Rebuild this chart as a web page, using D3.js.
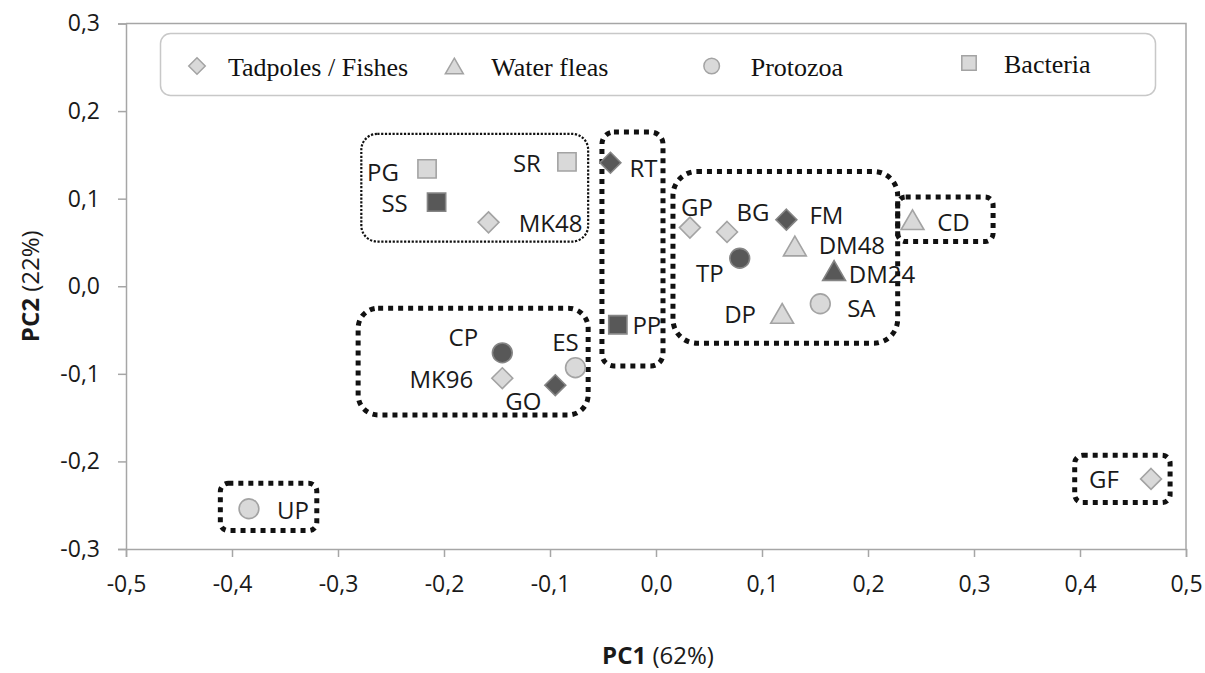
<!DOCTYPE html>
<html>
<head>
<meta charset="utf-8">
<script src="https://cdn.jsdelivr.net/npm/d3@7"></script>
<style>
  html, body { margin: 0; padding: 0; background: #fff; }
  svg { display: block; }
</style>
</head>
<body>
<svg id="chart" width="1205" height="673"></svg>
<script>
// ---- Samples on the first two principal components ----
const samples = ["PG", "SS", "SR", "MK48", "RT", "PP", "CP", "MK96", "GO", "ES",
                 "GP", "BG", "FM", "DM48", "TP", "DM24", "DP", "SA", "CD", "UP", "GF"];
const pc1 = [-0.216, -0.207, -0.084, -0.158, -0.043, -0.036, -0.145, -0.145, -0.095, -0.076,
             0.032, 0.067, 0.123, 0.131, 0.079, 0.168, 0.119, 0.155, 0.242, -0.384, 0.467];
const pc2 = [0.134, 0.096, 0.142, 0.073, 0.141, -0.044, -0.076, -0.105, -0.113, -0.093,
             0.067, 0.062, 0.076, 0.046, 0.032, 0.018, -0.031, -0.020, 0.076, -0.254, -0.220];
// organism group of each sample
const organism = ["Bacteria", "Bacteria", "Bacteria", "Tadpoles / Fishes", "Tadpoles / Fishes",
                  "Bacteria", "Protozoa", "Tadpoles / Fishes", "Tadpoles / Fishes", "Protozoa",
                  "Tadpoles / Fishes", "Tadpoles / Fishes", "Tadpoles / Fishes", "Water fleas",
                  "Protozoa", "Water fleas", "Water fleas", "Protozoa", "Water fleas",
                  "Protozoa", "Tadpoles / Fishes"];
// samples drawn with a filled (dark) marker
const darkSamples = ["SS", "RT", "PP", "CP", "GO", "FM", "TP", "DM24"];

// legend entries
const organismGroups = ["Tadpoles / Fishes", "Water fleas", "Protozoa", "Bacteria"];

// axis ticks
const xTicks = [-0.5, -0.4, -0.3, -0.2, -0.1, 0.0, 0.1, 0.2, 0.3, 0.4, 0.5];
const yTicks = [-0.3, -0.2, -0.1, 0.0, 0.1, 0.2, 0.3];

// dotted cluster outlines, in PC units: [pc1 min, pc1 max, pc2 min, pc2 max]
const clusterExtents = [
  [-0.278, -0.064, 0.051, 0.174],
  [-0.051, 0.0066, -0.091, 0.176],
  [0.016, 0.228, -0.065, 0.131],
  [0.228, 0.318, 0.051, 0.102],
  [-0.281, -0.064, -0.147, -0.025],
  [-0.411, -0.320, -0.279, -0.225],
  [0.395, 0.485, -0.247, -0.193]
];
const clusterLine = ["thin", "thick", "thick", "thick", "thick", "thick", "thick"];
const clusterRadius = [16, 12, 24, 8, 20, 8, 8];

// label placement around each marker (pixel offsets of the label centre)
const labelOffset = {
  PG: [-44, 3], SS: [-42, 0], SR: [-40, 1], MK48: [62, 0], RT: [33, 5], PP: [29, 0],
  CP: [-39, -16], MK96: [-61, 0], GO: [-32, 15], ES: [-10, -26], GP: [7, -21],
  BG: [26, -20], FM: [40, -5], DM48: [57, -1], TP: [-30, 14], DM24: [48, 3],
  DP: [-42, 0], SA: [41, 4], CD: [41, 2], UP: [44, 1], GF: [-47, 0]
};

// ---- Layout ----
const svg = d3.select("#chart");
const plot = { left: 126, right: 1186, top: 23.5, bottom: 549 };

const x = d3.scaleLinear().domain([-0.5, 0.5]).range([plot.left, plot.right]);
const y = d3.scaleLinear().domain([-0.3, 0.3]).range([plot.bottom, plot.top]);

const fmt = v => d3.format(".1f")(v).replace(".", ",").replace("−", "-");
const axisColor = "#a6a6a6";
const labelFont = "'Open Sans', 'DejaVu Sans', sans-serif";

// plot frame (top and right)
svg.append("path")
  .attr("d", `M${plot.left},${plot.top}H${plot.right}V${plot.bottom}`)
  .attr("fill", "none").attr("stroke", axisColor).attr("stroke-width", 1.5);

// axes
const xAxis = svg.append("g")
  .attr("transform", `translate(0,${plot.bottom})`)
  .call(d3.axisBottom(x).tickValues(xTicks).tickFormat(fmt).tickSize(8).tickPadding(19));
const yAxis = svg.append("g")
  .attr("transform", `translate(${plot.left},0)`)
  .call(d3.axisLeft(y).tickValues(yTicks).tickFormat(fmt).tickSize(8).tickPadding(18));

[xAxis, yAxis].forEach(g => {
  g.select(".domain").attr("stroke", axisColor).attr("stroke-width", 1.5);
  g.selectAll(".tick line").attr("stroke", axisColor).attr("stroke-width", 1.5);
  g.selectAll(".tick text")
    .attr("fill", "#1a1a1a")
    .style("font-family", labelFont)
    .style("font-size", "23px");
});
xAxis.selectAll(".tick text").attr("dy", "0.71em");

// axis titles
const xTitle = svg.append("text")
  .attr("x", (plot.left + plot.right) / 2 + 2).attr("y", 664)
  .attr("text-anchor", "middle")
  .style("font-family", labelFont).style("font-size", "24px").attr("fill", "#1a1a1a");
xTitle.append("tspan").attr("font-weight", "bold").text("PC1");
xTitle.append("tspan").text(" (62%)");

const yTitle = svg.append("text")
  .attr("transform", `translate(39,${y(0)}) rotate(-90)`)
  .attr("text-anchor", "middle")
  .style("font-family", labelFont).style("font-size", "24px").attr("fill", "#1a1a1a");
yTitle.append("tspan").attr("font-weight", "bold").text("PC2");
yTitle.append("tspan").text(" (22%)");

// ---- Marker shapes ----
function markerPath(kind, s) {
  if (kind === "Tadpoles / Fishes") {
    const h = s * 0.55;
    return `M0,${-h}L${h},0L0,${h}L${-h},0Z`;
  }
  if (kind === "Water fleas") {
    const w = s * 0.6, hh = s * 0.52;
    return `M0,${-hh}L${w},${hh}L${-w},${hh}Z`;
  }
  if (kind === "Protozoa") {
    const r = s * 0.52;
    return `M${r},0A${r},${r} 0 1,1 ${-r},0A${r},${r} 0 1,1 ${r},0Z`;
  }
  const h = s * 0.48;
  return `M${-h},${-h}H${h}V${h}H${-h}Z`;
}
const lightFill = "#d9d9d9", lightStroke = "#a3a3a3";
const darkFill = "#585858", darkStroke = "#858585";

// ---- Cluster outlines ----
clusterExtents.forEach((c, i) => {
  const thick = clusterLine[i] === "thick";
  svg.append("rect")
    .attr("x", x(c[0])).attr("y", y(c[3]))
    .attr("width", x(c[1]) - x(c[0]))
    .attr("height", y(c[2]) - y(c[3]))
    .attr("rx", clusterRadius[i]).attr("ry", clusterRadius[i])
    .attr("fill", "none")
    .attr("stroke", "#111")
    .attr("stroke-width", thick ? 5 : 2.2)
    .attr("stroke-dasharray", thick ? "5 5" : "2.2 1.6");
});

// ---- Points ----
const points = samples.map((name, i) => ({
  name, pc1: pc1[i], pc2: pc2[i], group: organism[i], dark: darkSamples.includes(name)
}));

svg.append("g").selectAll("path").data(points).join("path")
  .attr("transform", d => `translate(${x(d.pc1)},${y(d.pc2)})`)
  .attr("d", d => markerPath(d.group, 19))
  .attr("fill", d => d.dark ? darkFill : lightFill)
  .attr("stroke", d => d.dark ? darkStroke : lightStroke)
  .attr("stroke-width", 1.6);

svg.append("g").selectAll("text").data(points).join("text")
  .attr("x", d => x(d.pc1) + labelOffset[d.name][0])
  .attr("y", d => y(d.pc2) + labelOffset[d.name][1])
  .attr("text-anchor", "middle")
  .attr("dominant-baseline", "central")
  .style("font-family", labelFont)
  .style("font-size", "24px")
  .attr("fill", "#1a1a1a")
  .text(d => d.name);

// ---- Legend ----
const legend = svg.append("g");
legend.append("rect")
  .attr("x", 160.5).attr("y", 33.5).attr("width", 995).attr("height", 62)
  .attr("rx", 10).attr("ry", 10)
  .attr("fill", "#fff").attr("stroke", "#c8c8c8").attr("stroke-width", 1.5);

const legendX = d3.scalePoint().domain(organismGroups).range([197, 969]);
const legendItem = legend.selectAll("g.item").data(organismGroups).join("g")
  .attr("class", "item")
  .attr("transform", (d, i) => `translate(${legendX(d)},${i === 3 ? 63 : 66})`);
legendItem.append("path")
  .attr("d", d => markerPath(d, 15))
  .attr("fill", lightFill).attr("stroke", lightStroke).attr("stroke-width", 1.5);
legendItem.append("text")
  .attr("x", (d, i) => [31, 37, 39, 35][i])
  .attr("y", 1)
  .attr("dominant-baseline", "central")
  .style("font-family", "'Liberation Serif', 'Times New Roman', serif")
  .style("font-size", "26px")
  .attr("fill", "#111")
  .text(d => d);
</script>
</body>
</html>
